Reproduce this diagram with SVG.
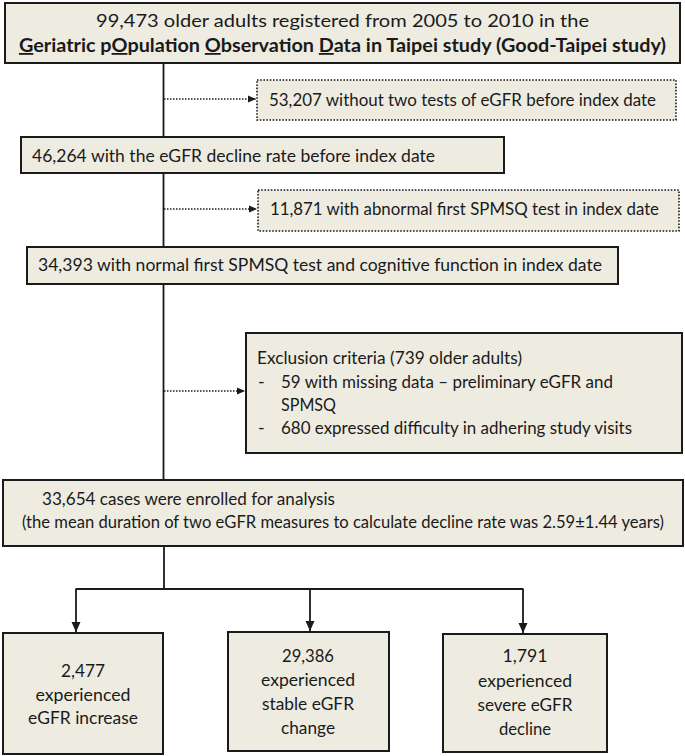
<svg xmlns="http://www.w3.org/2000/svg" width="685" height="756" viewBox="0 0 685 756">
<style>
  .box { fill: #EEECE1; stroke: #1a1a1a; stroke-width: 2; }
  .dbox { fill: #EEECE1; stroke: #1a1a1a; stroke-width: 1.6; stroke-dasharray: 1.6 1.6; }
  .t { font-family: Lato, "Open Sans", "Liberation Sans", sans-serif; font-size: 18px; fill: #1a1a1a; }
  .s { font-size: 16.5px; }
  .b { font-weight: bold; }
  .c { text-anchor: middle; }
  .line { fill: none; stroke: #1a1a1a; stroke-width: 1.8; }
  .dline { fill: none; stroke: #1a1a1a; stroke-width: 1.6; stroke-dasharray: 1.5 1.5; }
</style>
<defs>
  <marker id="ah" markerUnits="userSpaceOnUse" markerWidth="11" markerHeight="10" refX="10" refY="5" orient="auto">
    <path d="M0,0.5 L10,5 L0,9.5 z" fill="#1a1a1a"/>
  </marker>
  <marker id="ahs" markerUnits="userSpaceOnUse" markerWidth="9" markerHeight="8" refX="8" refY="4" orient="auto">
    <path d="M0,0.5 L8,4 L0,7.5 z" fill="#1a1a1a"/>
  </marker>
</defs>

<g id="connectors">
  <line class="line" x1="163.5" y1="63" x2="163.5" y2="480"/>
  <line class="dline" x1="164" y1="99" x2="256" y2="99" marker-end="url(#ahs)"/>
  <line class="dline" x1="164" y1="209" x2="257" y2="209" marker-end="url(#ahs)"/>
  <line class="dline" x1="164" y1="391" x2="245" y2="391" marker-end="url(#ahs)"/>
  <line class="line" x1="164" y1="546" x2="164" y2="589"/>
  <line class="line" x1="75.5" y1="589" x2="523.5" y2="589"/>
  <line class="line" x1="76" y1="589" x2="76" y2="632" marker-end="url(#ah)"/>
  <line class="line" x1="310" y1="589" x2="310" y2="631" marker-end="url(#ah)"/>
  <line class="line" x1="523" y1="589" x2="523" y2="633" marker-end="url(#ah)"/>
</g>

<g id="n1">
  <rect class="box" x="5" y="3" width="675" height="60"/>
  <text class="t" x="96" y="27" textLength="493" lengthAdjust="spacingAndGlyphs">99,473 older adults registered from 2005 to 2010 in the</text>
  <text class="t b" x="19" y="52" textLength="647" lengthAdjust="spacingAndGlyphs"><tspan text-decoration="underline">G</tspan>eriatric p<tspan text-decoration="underline">O</tspan>pulation <tspan text-decoration="underline">O</tspan>bservation <tspan text-decoration="underline">D</tspan>ata in Taipei study (Good-Taipei study)</text>
</g>

<g id="n2">
  <rect class="dbox" x="257" y="80" width="419" height="40"/>
  <text class="t" x="269" y="106" textLength="387" lengthAdjust="spacingAndGlyphs">53,207 without two tests of eGFR before index date</text>
</g>

<g id="n3">
  <rect class="box" x="21" y="137" width="483" height="36"/>
  <text class="t" x="32" y="162" textLength="403" lengthAdjust="spacingAndGlyphs">46,264 with the eGFR decline rate before index date</text>
</g>

<g id="n4">
  <rect class="dbox" x="258" y="190" width="421" height="41"/>
  <text class="t" x="270" y="215" textLength="389" lengthAdjust="spacingAndGlyphs">11,871 with abnormal first SPMSQ test in index date</text>
</g>

<g id="n5">
  <rect class="box" x="27" y="247" width="591" height="37"/>
  <text class="t" x="38" y="271" textLength="564" lengthAdjust="spacingAndGlyphs">34,393 with normal first SPMSQ test and cognitive function in index date</text>
</g>

<g id="n6">
  <rect class="box" x="246" y="333" width="436" height="120"/>
  <text class="t" x="257" y="364" textLength="265" lengthAdjust="spacingAndGlyphs">Exclusion criteria (739 older adults)</text>
  <text class="t" x="258" y="388">-</text>
  <text class="t" x="281" y="388" textLength="332" lengthAdjust="spacingAndGlyphs">59 with missing data – preliminary eGFR and</text>
  <text class="t" x="281" y="411" textLength="55" lengthAdjust="spacingAndGlyphs">SPMSQ</text>
  <text class="t" x="258" y="434">-</text>
  <text class="t" x="281" y="434" textLength="351" lengthAdjust="spacingAndGlyphs">680 expressed difficulty in adhering study visits</text>
</g>

<g id="n7">
  <rect class="box" x="3" y="480" width="680" height="66"/>
  <text class="t" x="42" y="505" textLength="293" lengthAdjust="spacingAndGlyphs">33,654 cases were enrolled for analysis</text>
  <text class="t s" x="22" y="528" textLength="642" lengthAdjust="spacingAndGlyphs">(the mean duration of two eGFR measures to calculate decline rate was 2.59±1.44 years)</text>
</g>

<g id="n8">
  <rect class="box" x="3" y="633" width="160" height="121"/>
  <text class="t c" x="83" y="677" textLength="44" lengthAdjust="spacingAndGlyphs">2,477</text>
  <text class="t c" x="83" y="701" textLength="95" lengthAdjust="spacingAndGlyphs">experienced</text>
  <text class="t c" x="83" y="724" textLength="110" lengthAdjust="spacingAndGlyphs">eGFR increase</text>
</g>

<g id="n9">
  <rect class="box" x="228" y="632" width="161" height="119"/>
  <text class="t c" x="308" y="662" textLength="52" lengthAdjust="spacingAndGlyphs">29,386</text>
  <text class="t c" x="308" y="686" textLength="94" lengthAdjust="spacingAndGlyphs">experienced</text>
  <text class="t c" x="308" y="710" textLength="92" lengthAdjust="spacingAndGlyphs">stable eGFR</text>
  <text class="t c" x="308" y="734" textLength="54" lengthAdjust="spacingAndGlyphs">change</text>
</g>

<g id="n10">
  <rect class="box" x="443" y="634" width="164" height="118"/>
  <text class="t c" x="525" y="662" textLength="45" lengthAdjust="spacingAndGlyphs">1,791</text>
  <text class="t c" x="525" y="687" textLength="94" lengthAdjust="spacingAndGlyphs">experienced</text>
  <text class="t c" x="525" y="711" textLength="95" lengthAdjust="spacingAndGlyphs">severe eGFR</text>
  <text class="t c" x="525" y="735" textLength="52" lengthAdjust="spacingAndGlyphs">decline</text>
</g>
</svg>
